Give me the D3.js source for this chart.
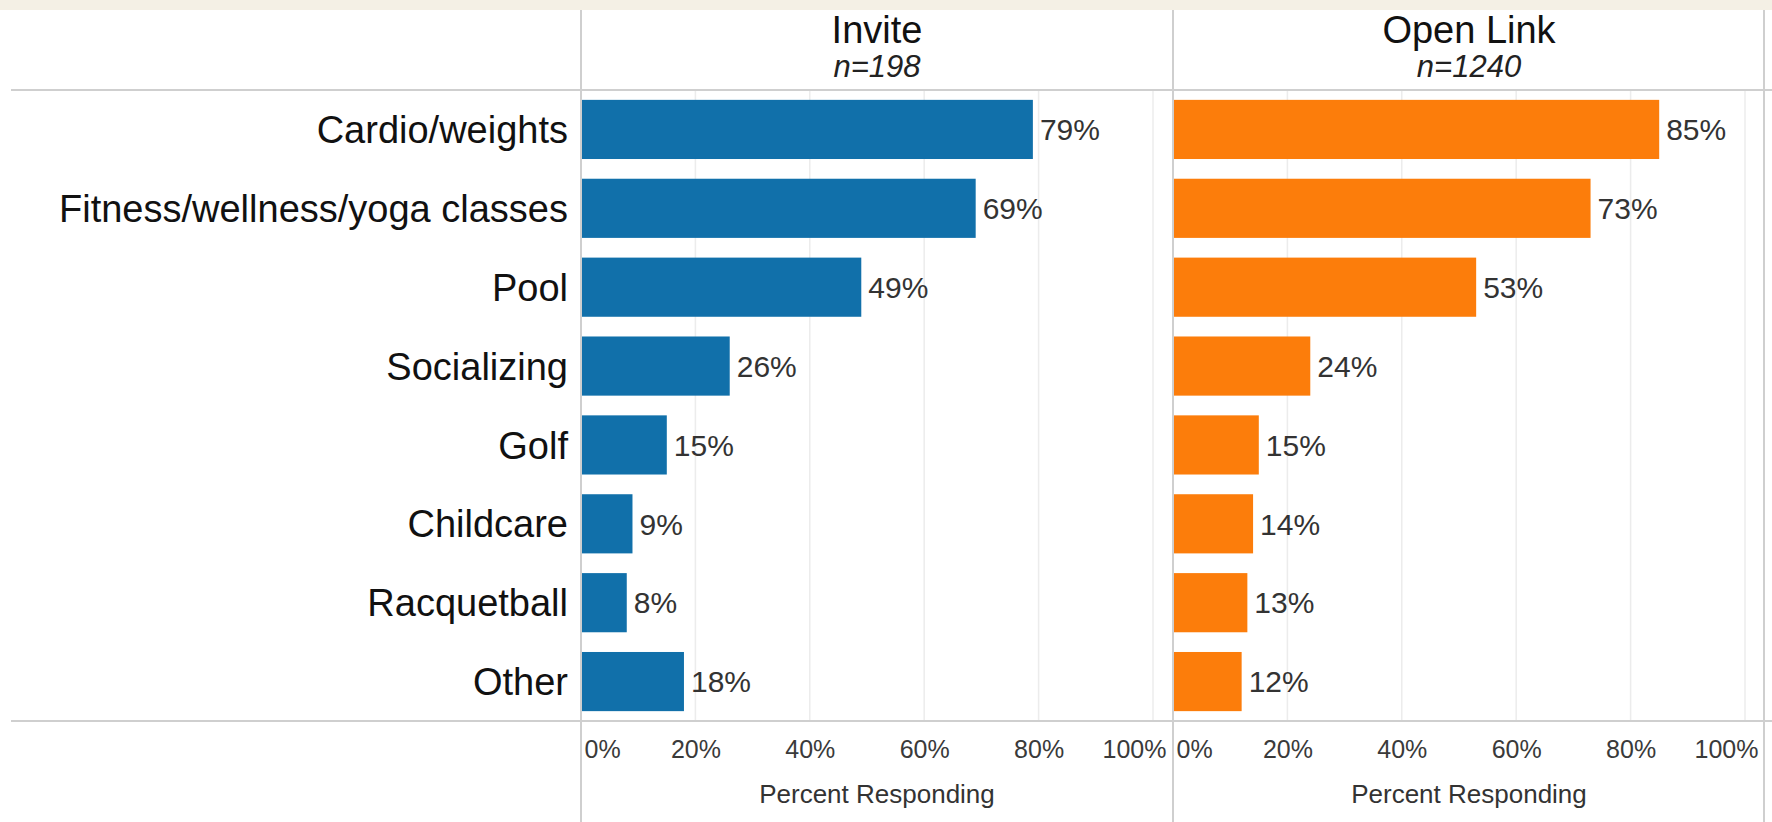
<!DOCTYPE html>
<html>
<head>
  <meta charset="utf-8">
  <title>Amenities used</title>
  <script src="https://d3js.org/d3.v7.min.js"></script>
  <style>
    body { margin: 0; background-color: #fff; }
    svg { display: block; }
    text { font-family: Arial, "Liberation Sans", sans-serif; }
  </style>
</head>
<body>
  <div id="my_dataviz"></div>
  <script>
    // data
    var categories = ["Cardio/weights", "Fitness/wellness/yoga classes", "Pool", "Socializing",
                      "Golf", "Childcare", "Racquetball", "Other"];
    var panelNames = ["Invite", "Open Link"];
    var panelN = ["n=198", "n=1240"];
    var inviteValues = [0.79, 0.69, 0.49, 0.26, 0.15, 0.09, 0.08, 0.18];
    var openLinkValues = [0.85, 0.73, 0.53, 0.24, 0.15, 0.14, 0.13, 0.12];
    var tickValues = [0, 0.2, 0.4, 0.6, 0.8, 1.0];

    var width = 1772, height = 822;
    var plotTop = 90, plotBottom = 721;
    var panelLeft = [581, 1173], panelWidth = 592, scaleWidth = 572;
    var colors = ["#1170aa", "#fc7d0b"];
    var series = [inviteValues, openLinkValues];

    var svg = d3.select("#my_dataviz")
      .append("svg")
        .attr("width", width)
        .attr("height", height);

    svg.append("rect")
      .attr("width", width).attr("height", height).attr("fill", "#fff");
    // beige strip across the top
    svg.append("rect")
      .attr("width", width).attr("height", 10).attr("fill", "#f4f0e5");

    var y = d3.scaleBand()
      .domain(categories)
      .range([plotTop, plotBottom])
      .paddingInner(0.25)
      .paddingOuter(0.125);

    var pct = d3.format(".0%");

    // category labels
    svg.append("g")
      .selectAll("text")
      .data(categories)
      .enter()
      .append("text")
        .attr("x", 568)
        .attr("y", function(d) { return y(d) + y.bandwidth() / 2; })
        .attr("dy", "0.36em")
        .attr("text-anchor", "end")
        .style("font-size", "38px")
        .style("fill", "#111")
        .text(function(d) { return d; });

    panelNames.forEach(function(name, p) {
      var x = d3.scaleLinear()
        .domain([0, 1])
        .range([panelLeft[p], panelLeft[p] + scaleWidth]);
      var cx = panelLeft[p] + panelWidth / 2;
      var g = svg.append("g");

      // gridlines
      g.selectAll(".grid")
        .data(tickValues.slice(1))
        .enter()
        .append("line")
          .attr("x1", function(d) { return x(d); })
          .attr("x2", function(d) { return x(d); })
          .attr("y1", plotTop).attr("y2", plotBottom)
          .attr("stroke", "#ececec")
          .attr("stroke-width", 1.5);

      // header
      g.append("text")
        .attr("x", cx).attr("y", 43)
        .attr("text-anchor", "middle")
        .style("font-size", "38px")
        .style("fill", "#111")
        .text(name);
      g.append("text")
        .attr("x", cx).attr("y", 77)
        .attr("text-anchor", "middle")
        .style("font-size", "31px")
        .style("font-style", "italic")
        .style("fill", "#222")
        .text(panelN[p]);

      // bars
      g.selectAll(".bar")
        .data(series[p])
        .enter()
        .append("rect")
          .attr("x", x(0))
          .attr("y", function(d, i) { return y(categories[i]); })
          .attr("width", function(d) { return x(d) - x(0); })
          .attr("height", y.bandwidth())
          .attr("fill", colors[p]);

      // value labels
      g.selectAll(".val")
        .data(series[p])
        .enter()
        .append("text")
          .attr("x", function(d) { return x(d) + 7; })
          .attr("y", function(d, i) { return y(categories[i]) + y.bandwidth() / 2; })
          .attr("dy", "0.36em")
          .style("font-size", "30px")
          .style("fill", "#333")
          .text(function(d) { return pct(d); });

      // axis
      var axis = g.append("g")
        .attr("transform", "translate(0," + plotBottom + ")")
        .call(d3.axisBottom(x).tickValues(tickValues).tickFormat(pct).tickSize(0).tickPadding(0));
      axis.select(".domain").remove();
      axis.selectAll("text")
        .attr("y", 37)
        .attr("dy", 0)
        .style("font-size", "25px")
        .style("font-family", "Arial, 'Liberation Sans', sans-serif")
        .style("fill", "#3a3a3a")
        .attr("text-anchor", function(d, i) { return i === 0 ? "start" : "middle"; })
        .attr("dx", function(d, i) {
          if (i === 0) return 3;
          if (i === tickValues.length - 1) return -19;
          return 0;
        });

      g.append("text")
        .attr("x", cx).attr("y", 803)
        .attr("text-anchor", "middle")
        .style("font-size", "26px")
        .style("fill", "#333")
        .text("Percent Responding");
    });

    // frame lines
    var frame = svg.append("g").attr("stroke", "#cfcfcf").attr("stroke-width", 2);
    frame.append("line").attr("x1", 11).attr("x2", width).attr("y1", plotTop).attr("y2", plotTop);
    frame.append("line").attr("x1", 11).attr("x2", width).attr("y1", plotBottom).attr("y2", plotBottom);
    [panelLeft[0], panelLeft[1], 1764].forEach(function(xv) {
      frame.append("line").attr("x1", xv).attr("x2", xv).attr("y1", 10).attr("y2", height);
    });
  </script>
</body>
</html>
